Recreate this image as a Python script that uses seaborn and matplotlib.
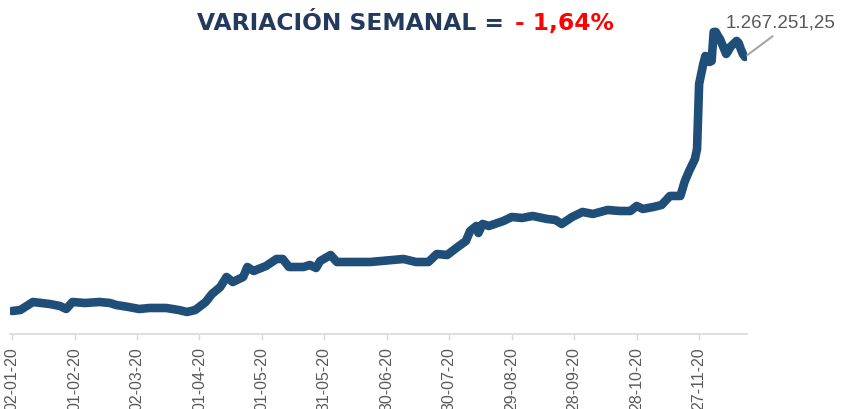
import pandas as pd
import matplotlib
matplotlib.use("Agg")
from matplotlib import pyplot as plt
import matplotlib.dates as mdates
import seaborn as sns

# series values (2020)
dates = [
    "2020-01-02", "2020-01-06", "2020-01-12", "2020-01-16", "2020-01-20", "2020-01-25",
    "2020-01-28", "2020-01-31", "2020-02-06", "2020-02-13", "2020-02-18", "2020-02-21",
    "2020-02-27", "2020-03-03", "2020-03-08", "2020-03-16", "2020-03-22", "2020-03-26",
    "2020-03-30", "2020-04-04", "2020-04-07", "2020-04-11", "2020-04-14", "2020-04-17",
    "2020-04-22", "2020-04-24", "2020-04-27", "2020-05-03", "2020-05-08", "2020-05-11",
    "2020-05-14", "2020-05-21", "2020-05-24", "2020-05-27", "2020-05-29", "2020-06-03",
    "2020-06-06", "2020-06-22", "2020-07-08", "2020-07-14", "2020-07-20", "2020-07-24",
    "2020-07-29", "2020-08-03", "2020-08-07", "2020-08-09", "2020-08-12", "2020-08-13",
    "2020-08-15", "2020-08-18", "2020-08-25", "2020-08-29", "2020-09-03", "2020-09-08",
    "2020-09-15", "2020-09-19", "2020-09-22", "2020-09-27", "2020-10-02", "2020-10-07",
    "2020-10-14", "2020-10-20", "2020-10-25", "2020-10-28", "2020-10-31", "2020-11-05",
    "2020-11-09", "2020-11-13", "2020-11-18", "2020-11-20", "2020-11-22", "2020-11-25",
    "2020-11-26", "2020-11-27", "2020-11-28", "2020-11-29", "2020-11-30", "2020-12-01",
    "2020-12-02", "2020-12-03", "2020-12-04", "2020-12-05", "2020-12-06", "2020-12-07",
    "2020-12-08", "2020-12-09", "2020-12-10", "2020-12-11", "2020-12-12", "2020-12-13",
    "2020-12-14", "2020-12-15", "2020-12-16", "2020-12-17", "2020-12-18", "2020-12-19",
]
values = [
    105200, 109800, 146400, 141800, 137300, 128100,
    114400, 146400, 141800, 146400, 141800, 132700,
    123500, 114400, 119000, 119000, 109800, 100700,
    109800, 146400, 183000, 215000, 260800, 237900,
    260800, 306500, 288200, 311100, 343100, 343100,
    306500, 306500, 315700, 302000, 334000, 361400,
    329400, 329400, 343100, 329400, 329400, 366000,
    361400, 398000, 425500, 471200, 494100, 462100,
    503300, 494100, 517000, 535300, 530700, 539900,
    526100, 521600, 503300, 535300, 558200, 549000,
    567300, 562700, 562700, 585600, 571900, 581000,
    590200, 631400, 631400, 695400, 741200, 800600,
    846400, 1143750, 1189500, 1235250, 1271850, 1258125,
    1244400, 1248975, 1381650, 1381650, 1363350, 1349625,
    1326750, 1303875, 1281000, 1294725, 1313025, 1322175,
    1331325, 1340475, 1331325, 1303875, 1281000, 1267251.25,
]
tick_dates = [
    "2020-01-02", "2020-02-01", "2020-03-02", "2020-04-01", "2020-05-01", "2020-05-31",
    "2020-06-30", "2020-07-30", "2020-08-29", "2020-09-28", "2020-10-28", "2020-11-27",
]
last_label = "1.267.251,25"
title_left = "VARIACIÓN SEMANAL ="
title_right = "- 1,64%"

LINE = "#1F4E79"
NAVY = "#233A5E"
GREY = "#595959"

sns.set_theme(style="white")
plt.rcParams["font.family"] = ["Liberation Sans", "DejaVu Sans"]

df = pd.DataFrame({"fecha": pd.to_datetime(dates), "valor": values})

fig = plt.figure(figsize=(8.41, 4.10), dpi=100)
ax = fig.add_axes([10 / 841, 75 / 410, 737 / 841, 310 / 410])

sns.lineplot(data=df, x="fecha", y="valor", ax=ax, color=LINE, linewidth=6.2,
             solid_capstyle="round", solid_joinstyle="round")

ax.set_xlim(pd.Timestamp("2020-01-01 00:00"), pd.Timestamp("2020-12-20 00:00"))
ax.set_ylim(0, 1418000)

ax.set_xticks(pd.to_datetime(tick_dates))
ax.xaxis.set_major_formatter(mdates.DateFormatter("%d-%m-%y"))
ax.tick_params(axis="x", bottom=True, length=4, width=1, color="#d9d9d9",
               labelsize=11.5, labelcolor=GREY, labelrotation=90, pad=5)
ax.set_yticks([])
ax.set_xlabel("")
ax.set_ylabel("")
for side in ["left", "top", "right"]:
    ax.spines[side].set_visible(False)
ax.spines["bottom"].set_color("#d9d9d9")
ax.spines["bottom"].set_linewidth(1.2)
ax.grid(False)

# label on the last point
ax.annotate(last_label, xy=(df["fecha"].iloc[-1], values[-1]),
            xytext=(-14, 22), textcoords="offset points",
            ha="left", va="baseline", fontsize=13.5, color=GREY,
            annotation_clip=False,
            arrowprops=dict(arrowstyle="-", color="#a6a6a6", lw=1.5,
                            relpos=(0.5, 0), shrinkA=3, shrinkB=2))

# title in two colours
fig.text(197 / 841, 1 - 30 / 410, title_left, ha="left", va="baseline",
         fontsize=16.8, fontweight="heavy", color=NAVY,
         family=["DejaVu Sans"])
fig.text(515 / 841, 1 - 30 / 410, title_right, ha="left", va="baseline",
         fontsize=16.8, fontweight="heavy", color="#FF0000",
         family=["DejaVu Sans"])

fig.savefig("out.png", dpi=100)
